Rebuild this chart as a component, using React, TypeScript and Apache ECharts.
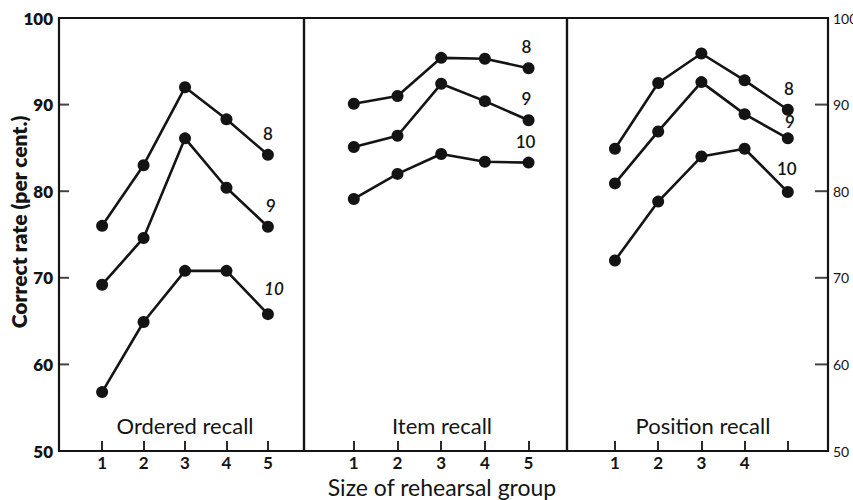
import React, { useEffect, useRef } from "react";
import * as echarts from "echarts";

const xs = [1, 2, 3, 4, 5];
const panelTitles = ["Ordered recall", "Item recall", "Position recall"];
const seriesNames = ["8", "9", "10"];

const ordered8 = [76, 83, 92, 88.3, 84.2];
const ordered9 = [69.2, 74.6, 86.1, 80.4, 75.9];
const ordered10 = [56.8, 64.9, 70.8, 70.8, 65.8];

const item8 = [90.1, 91.0, 95.4, 95.3, 94.2];
const item9 = [85.1, 86.4, 92.4, 90.4, 88.2];
const item10 = [79.1, 82.0, 84.3, 83.4, 83.3];

const position8 = [84.9, 92.5, 95.9, 92.8, 89.4];
const position9 = [80.9, 86.9, 92.6, 88.9, 86.1];
const position10 = [72.0, 78.8, 84.0, 84.9, 79.9];

const xTickValues = [1, 2, 3, 4, 5];
const xLabelValues = [[1, 2, 3, 4, 5], [1, 2, 3, 4, 5], [1, 2, 3, 4]];
const yTickValues = [60, 70, 80, 90];
const yMin = 50;
const yMax = 100;
const yStep = 10;

const panels = [
  [ordered8, ordered9, ordered10],
  [item8, item9, item10],
  [position8, position9, position10],
];

const INK = "#141414";
const FONT = "Lato, 'Open Sans', 'DejaVu Sans', sans-serif";

// layout (pixels)
const grids = [
  { left: 59, width: 245 },
  { left: 304, width: 263 },
  { left: 567, width: 261 },
];
const titleCenters = [185, 442, 703];
const xRanges = [
  { min: -0.04, max: 5.87 },
  { min: -0.14, max: 5.88 },
  { min: -0.11, max: 5.93 },
];
const labelOffsets = [
  [[0, -2], [3, -2], [6, -6]],
  [[-2, -2], [-2, -2], [-3, -2]],
  [[1, -2], [2, 3], [-1, -4]],
];

export default function App() {
  const ref = useRef<HTMLDivElement>(null);
  useEffect(() => {
    if (!ref.current) return;
    const chart = echarts.init(ref.current, undefined, { renderer: "svg" });

    const series: any[] = [];
    panels.forEach((panel, p) => {
      panel.forEach((vals, s) => {
        series.push({
          type: "line",
          name: `${panelTitles[p]} ${seriesNames[s]}`,
          xAxisIndex: p,
          yAxisIndex: p,
          symbol: "circle",
          symbolSize: 12,
          showAllSymbol: true,
          lineStyle: { color: INK, width: 2.6 },
          itemStyle: { color: INK },
          data: vals.map((v, i) =>
            i === vals.length - 1
              ? {
                  value: [xs[i], v],
                  label: {
                    show: true,
                    position: "top",
                    distance: 5,
                    offset: labelOffsets[p][s],
                    formatter: seriesNames[s],
                    color: INK,
                    fontFamily: FONT,
                    fontSize: 17,
                    fontWeight: 600,
                    fontStyle: p === 0 && s === 2 ? "italic" : "normal",
                  },
                }
              : [xs[i], v]
          ),
        });
      });
    });

    // y-axis tick marks (inside) for the outer panels, placed through the axis scales
    [0, 2].forEach((p) => {
      const len = p === 2 ? 13 : 10;
      series.push({
        type: "scatter",
        name: `yticks-${p}`,
        xAxisIndex: p,
        yAxisIndex: p,
        silent: true,
        clip: false,
        z: 5,
        symbol: "rect",
        symbolSize: [len, 2],
        symbolOffset: [p === 2 ? -len / 2 : len / 2, 0],
        itemStyle: { color: INK },
        data: yTickValues.map((v) => [p === 2 ? xRanges[p].max : xRanges[p].min, v]),
      });
    });

    const option: any = {
      animation: false,
      backgroundColor: "#ffffff",
      grid: grids.map((g) => ({
        left: g.left,
        width: g.width,
        top: 18,
        bottom: 49,
        show: true,
        borderColor: INK,
        borderWidth: 2.2,
        backgroundColor: "transparent",
        containLabel: false,
        outerBoundsMode: "none",
      })),
      xAxis: grids.map((_, p) => ({
        type: "value",
        gridIndex: p,
        min: xRanges[p].min,
        max: xRanges[p].max,
        axisLine: { show: false, onZero: false },
        splitLine: { show: false },
        axisTick: {
          show: true,
          inside: true,
          length: 10,
          customValues: xTickValues,
          lineStyle: { color: INK, width: 1.8 },
        },
        axisLabel: {
          show: true,
          customValues: xLabelValues[p],
          margin: 3,
          color: INK,
          fontFamily: FONT,
          fontSize: 17,
          fontWeight: 700,
        },
      })),
      yAxis: grids.map((_, p) => ({
        type: "value",
        gridIndex: p,
        min: yMin,
        max: yMax,
        interval: yStep,
        position: p === 2 ? "right" : "left",
        axisLine: { show: false, onZero: false },
        splitLine: { show: false },
        axisTick: { show: false },
        axisLabel: {
          show: p !== 1,
          margin: p === 2 ? 5 : 6,
          color: INK,
          fontFamily: FONT,
          fontSize: p === 2 ? 14 : 17,
          fontWeight: p === 0 ? 800 : 400,
        },
      })),
      graphic: [
        ...panelTitles.map((t, p) => ({
          type: "text",
          x: titleCenters[p],
          y: 425,
          style: {
            text: t,
            fill: INK,
            font: `400 22px ${FONT}`,
            textAlign: "center",
            textVerticalAlign: "middle",
          },
        })),
        {
          type: "text",
          x: 442,
          y: 487,
          style: {
            text: "Size of rehearsal group",
            fill: INK,
            font: `400 23px ${FONT}`,
            textAlign: "center",
            textVerticalAlign: "middle",
          },
        },
        {
          type: "text",
          x: 18,
          y: 222,
          rotation: Math.PI / 2,
          style: {
            text: "Correct rate (per cent.)",
            fill: INK,
            font: `800 21px ${FONT}`,
            textAlign: "center",
            textVerticalAlign: "middle",
          },
        },
      ],
      series,
    };
    chart.setOption(option);
    return () => chart.dispose();
  }, []);

  return (
    <div
      ref={ref}
      style={{ position: "fixed", left: 0, top: 0, width: 853, height: 500, background: "#fff" }}
    />
  );
}
